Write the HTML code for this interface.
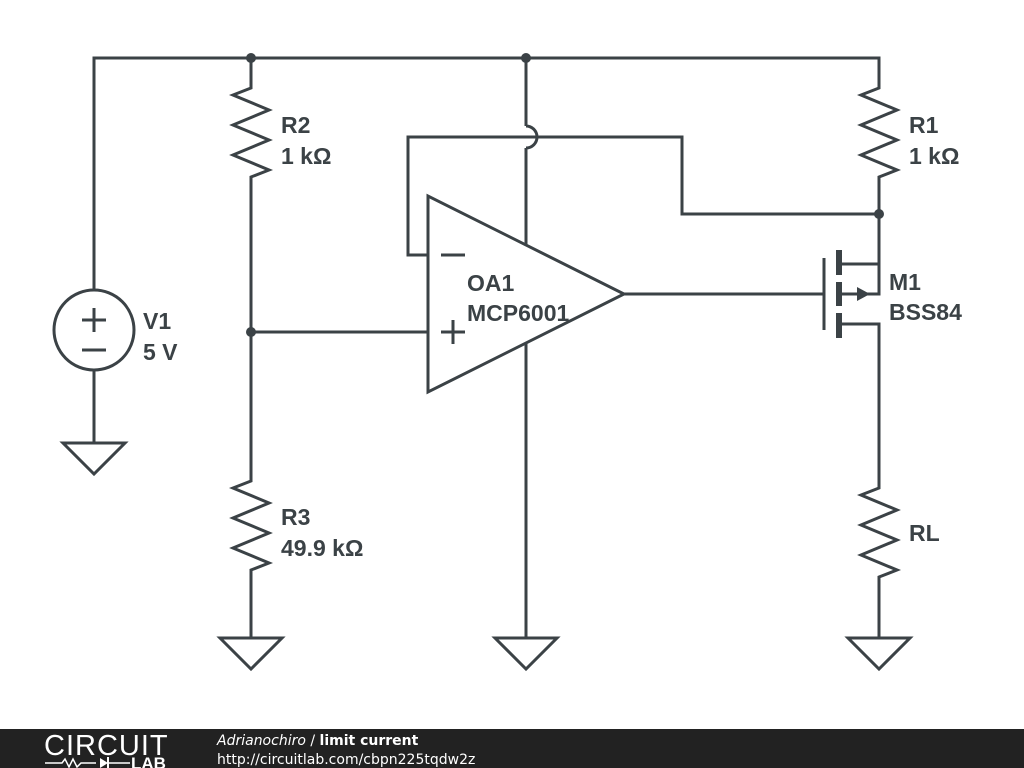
<!DOCTYPE html>
<html><head><meta charset="utf-8"><style>
body{margin:0;width:1024px;height:768px;overflow:hidden;background:#fff}
svg{display:block}
text{font-family:"Liberation Sans",sans-serif;font-weight:bold;font-size:23px;fill:#3b4246}
</style></head><body>
<svg width="1024" height="768" viewBox="0 0 1024 768">
<defs>
<g id="res"><polyline points="0,0 0,6 -18,13 18,28 -18,43 18,58 -18,73 18,88 0,95 0,101" fill="none"/></g>
<g id="gnd"><polygon points="-31,0 31,0 0,31" fill="none"/></g>
</defs>
<g stroke="#3b4246" stroke-width="3" fill="none" stroke-linejoin="miter">
<polyline points="94,290 94,58 879,58 879,82"/>
<line x1="94" y1="370" x2="94" y2="443"/>
<circle cx="94" cy="330" r="40"/>
<line x1="82" y1="320" x2="106" y2="320"/><line x1="94" y1="308" x2="94" y2="332"/>
<line x1="82" y1="350" x2="106" y2="350"/>
<use href="#gnd" x="94" y="443"/>
<line x1="251" y1="58" x2="251" y2="82"/>
<use href="#res" x="251" y="82"/>
<line x1="251" y1="183" x2="251" y2="475"/>
<use href="#res" x="251" y="475"/>
<line x1="251" y1="576" x2="251" y2="638"/>
<use href="#gnd" x="251" y="638"/>
<line x1="251" y1="332" x2="428" y2="332"/>
<polygon points="428,196 428,392 624,294"/>
<line x1="441" y1="255" x2="465" y2="255"/>
<line x1="441" y1="332" x2="465" y2="332"/><line x1="453" y1="320" x2="453" y2="344"/>
<polyline points="428,255 408,255 408,137 682,137 682,214 879,214"/>
<polyline points="526,58 526,126"/>
<path d="M526,126 A11,11 0 0 1 526,148"/>
<line x1="526" y1="148" x2="526" y2="246"/>
<line x1="526" y1="343" x2="526" y2="638"/>
<use href="#gnd" x="526" y="638"/>
<line x1="624" y1="294" x2="824" y2="294"/>
<use href="#res" x="879" y="82"/>
<polyline points="879,183 879,294 842,294"/>
<line x1="824" y1="258" x2="824" y2="330"/>
<polyline points="842,264 879,264"/>
<polyline points="842,324 879,324 879,482"/>
<use href="#res" x="879" y="482"/>
<line x1="879" y1="583" x2="879" y2="638"/>
<use href="#gnd" x="879" y="638"/>
</g>
<g fill="#3b4246">
<rect x="836" y="250" width="6" height="25"/>
<rect x="836" y="282" width="6" height="24"/>
<rect x="836" y="313" width="6" height="25"/>
<polygon points="857,287 870,294 857,301"/>
<circle cx="251" cy="58" r="5"/><circle cx="526" cy="58" r="5"/>
<circle cx="251" cy="332" r="5"/><circle cx="879" cy="214" r="5"/>
</g>
<text x="281" y="133">R2</text><text x="281" y="164">1 kΩ</text>
<text x="909" y="133">R1</text><text x="909" y="164">1 kΩ</text>
<text x="143" y="329">V1</text><text x="143" y="360">5 V</text>
<text x="467" y="291">OA1</text><text x="467" y="321">MCP6001</text>
<text x="889" y="290">M1</text><text x="889" y="320">BSS84</text>
<text x="281" y="525">R3</text><text x="281" y="556">49.9 kΩ</text>
<text x="909" y="541">RL</text>
<rect x="0" y="729" width="1024" height="39" fill="#222"/>
<text x="44" y="755" style="font-weight:normal;font-size:29px;fill:#fff;letter-spacing:1px">CIRCUIT</text>
<polyline points="45,763 62,763 65,759 69,767 73,759 77,767 81,763 96,763" stroke="#fff" stroke-width="1.5" fill="none"/>
<polygon points="100,758 100,768 108,763" fill="#fff"/><line x1="108" y1="757" x2="108" y2="769" stroke="#fff" stroke-width="2"/>
<line x1="108" y1="763" x2="130" y2="763" stroke="#fff" stroke-width="1.5"/>
<text x="131" y="769" style="font-size:17px;fill:#fff">LAB</text>
<text x="217" y="745" style="font-family:'DejaVu Sans',sans-serif;font-size:14px;fill:#fff;font-weight:normal"><tspan font-style="italic">Adrianochiro</tspan> / <tspan font-weight="bold">limit current</tspan></text>
<text x="217" y="764" style="font-family:'DejaVu Sans',sans-serif;font-size:14px;fill:#fff;font-weight:normal">http://circuitlab.com/cbpn225tqdw2z</text>
</svg>
</body></html>
